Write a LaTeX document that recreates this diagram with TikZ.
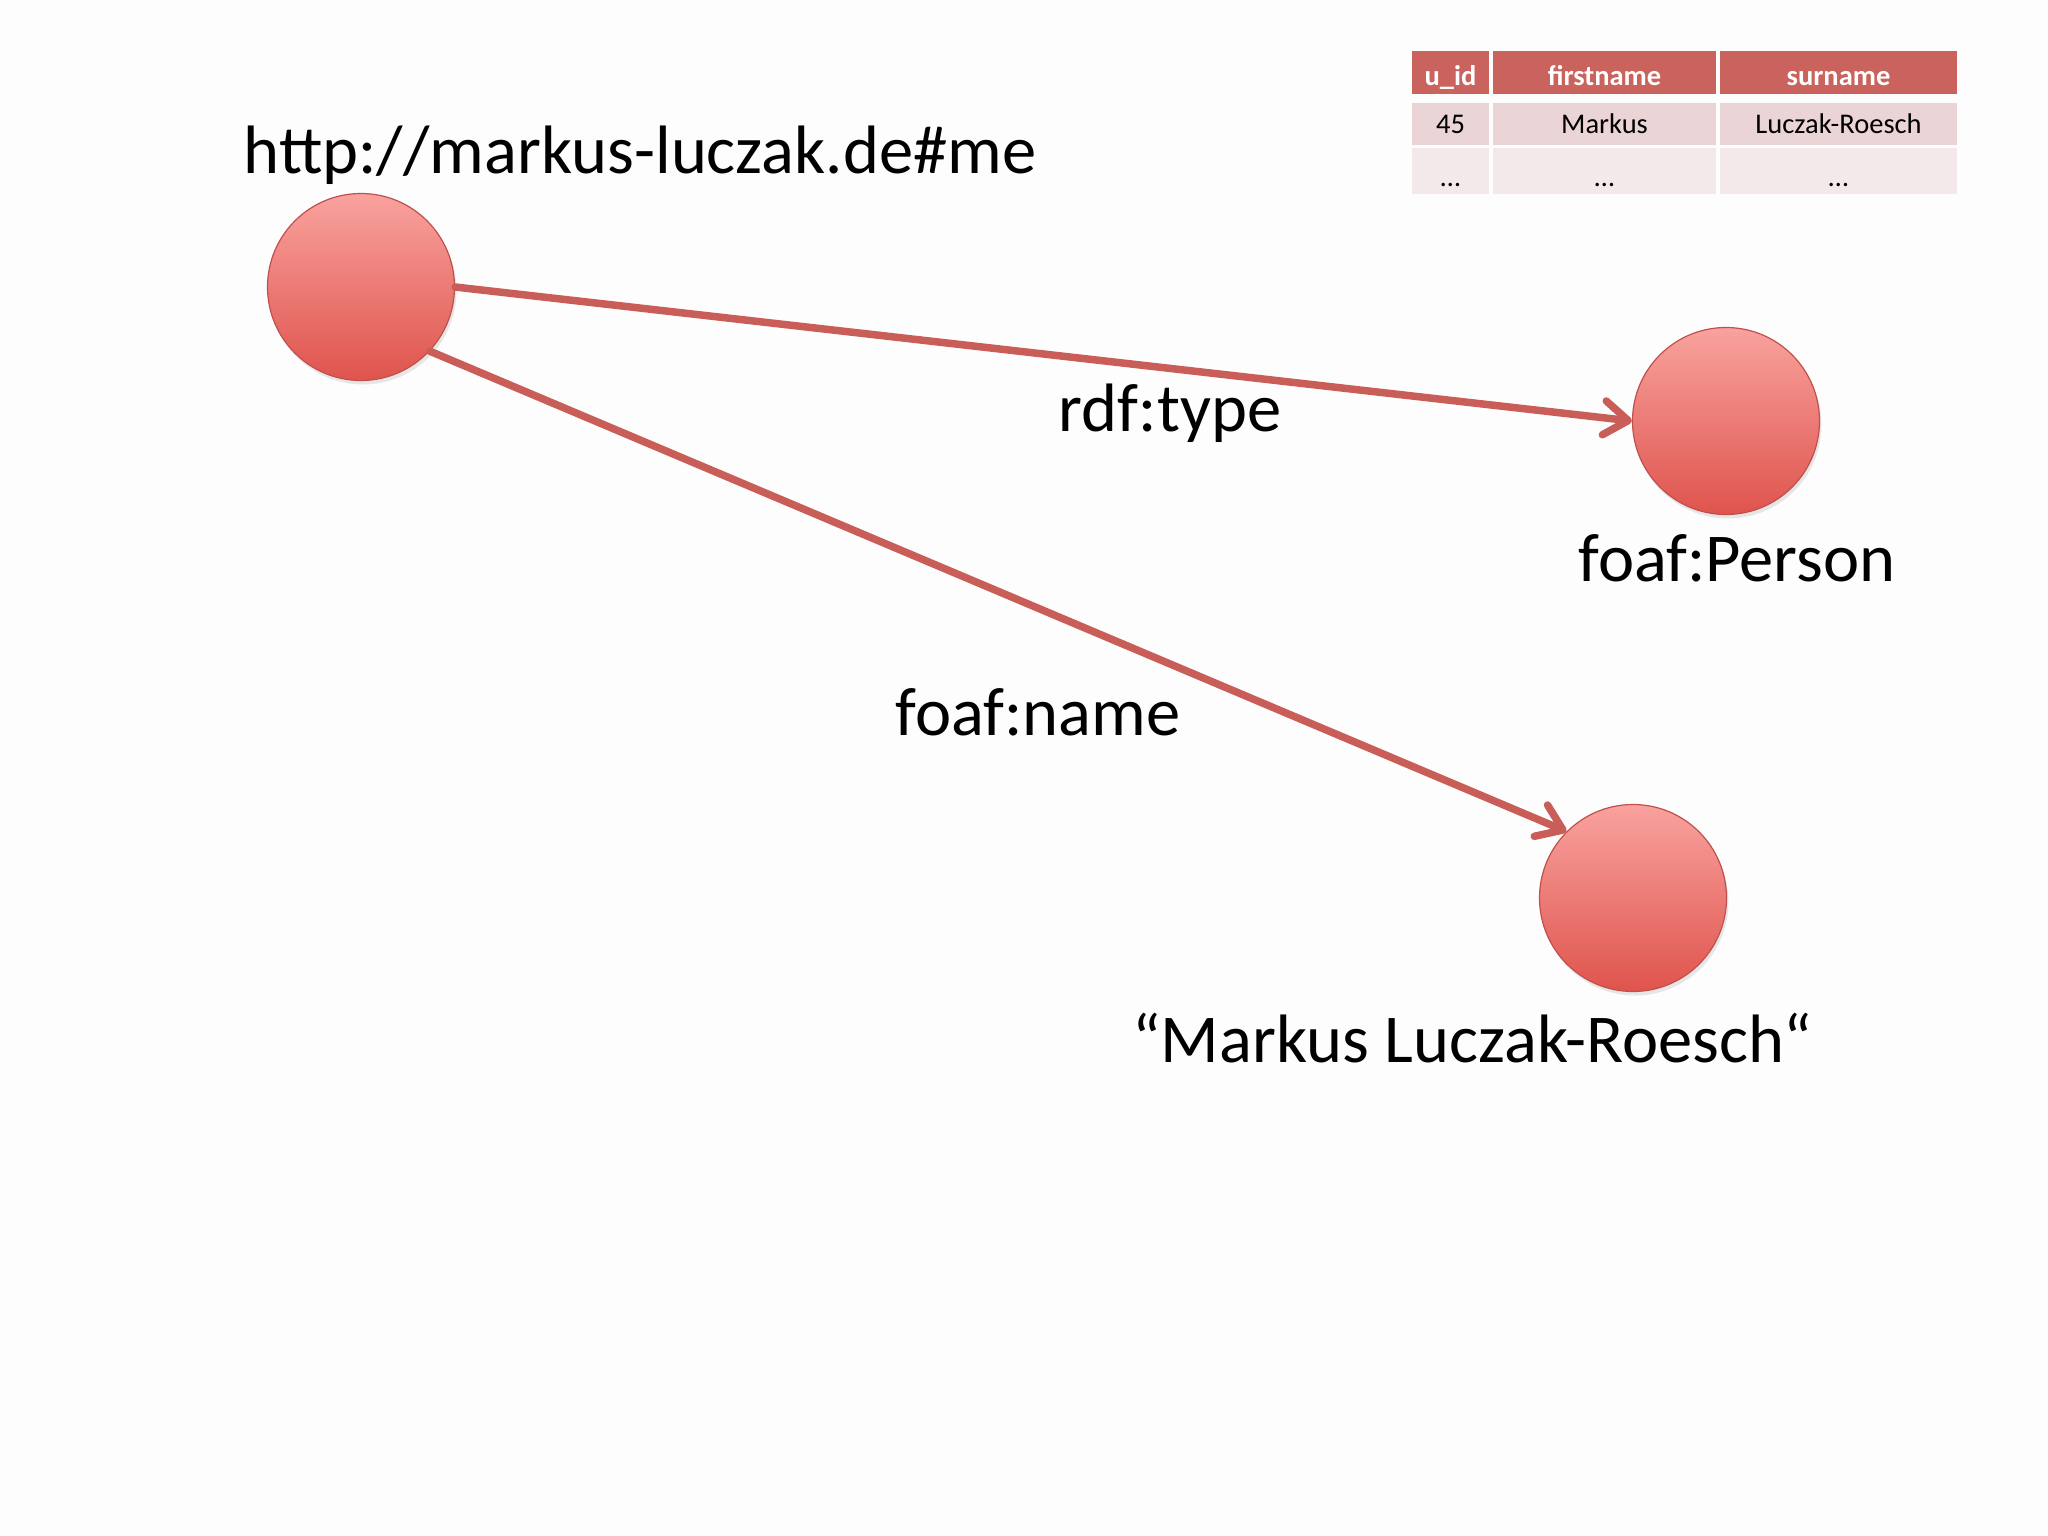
\documentclass[tikz,border=0pt]{standalone}
\usepackage{fontspec}
\setmainfont{Carlito}
\usetikzlibrary{arrows.meta,shadows}
\definecolor{bgcol}{HTML}{FEFDFD}
\definecolor{edgecol}{HTML}{C95E59}
\definecolor{ctop}{HTML}{F9A29E}
\definecolor{cbot}{HTML}{DF544D}
\definecolor{cline}{HTML}{C0504D}
\definecolor{hdrcol}{HTML}{CA625D}
\definecolor{row1col}{HTML}{EBD4D6}
\definecolor{row2col}{HTML}{F4E9EA}
\tikzset{
  res/.style={circle, minimum size=187pt, inner sep=0pt, top color=ctop, bottom color=cbot,
    draw=cline, line width=1.2pt,
    drop shadow={opacity=0.18, shadow xshift=2pt, shadow yshift=-4pt}},
  edge/.style={draw=edgecol, line width=7.5pt, line cap=round,
    -{Straight Barb[length=24pt,width=34pt,round]}},
  biglabel/.style={font=\fontsize{68.5}{82}\selectfont, inner sep=0pt},
  cell/.style={inner sep=0pt, text height=26pt, text depth=6pt, font=\fontsize{28.5}{32}\selectfont},
  hdr/.style={cell, fill=hdrcol, text=white, text height=33pt, font=\fontsize{28.5}{32}\selectfont\bfseries},
  rowa/.style={cell, fill=row1col},
  rowb/.style={cell, fill=row2col, text height=37pt},
  wa/.style={minimum width=77pt},
  wb/.style={minimum width=223pt},
  wc/.style={minimum width=237pt}
}
\begin{document}
\begin{tikzpicture}[x=1pt,y=-1pt]
\useasboundingbox[fill=bgcol] (0,0) rectangle (2048,1536);

% table
\node[hdr, wa, minimum height=43pt] (h1) at (1450.5,72.5) {u\_id};
\node[hdr, wb, minimum height=43pt] (h2) at (1604.5,72.5) {firstname};
\node[hdr, wc, minimum height=43pt] (h3) at (1838.5,72.5) {surname};
\node[rowa, wa, minimum height=42pt] (a1) at (1450.5,124) {45};
\node[rowa, wb, minimum height=42pt] (a2) at (1604.5,124) {Markus};
\node[rowa, wc, minimum height=42pt] (a3) at (1838.5,124) {Luczak-Roesch};
\node[rowb, wa, minimum height=45pt] (b1) at (1450.5,171) {…};
\node[rowb, wb, minimum height=45pt] (b2) at (1604.5,171) {…};
\node[rowb, wc, minimum height=45pt] (b3) at (1838.5,171) {…};

% resources
\node[res] (me) at (361,287) {};
\node[res] (person) at (1726,421) {};
\node[res] (name) at (1633,898) {};

% edges
\draw[edge] (me.east) -- (person.west);
\draw[edge] (me.-43) -- (name.135);

% labels
\node[biglabel] (lme) at (640,155) {http://markus-luczak.de\#me};
\node[biglabel] (ltype) at (1170,413) {rdf:type};
\node[biglabel] (lperson) at (1737,558) {foaf:Person};
\node[biglabel] (lname) at (1038,712) {foaf:name};
\node[biglabel] (lval) at (1472,1038) {“Markus Luczak-Roesch“};
\end{tikzpicture}
\end{document}
